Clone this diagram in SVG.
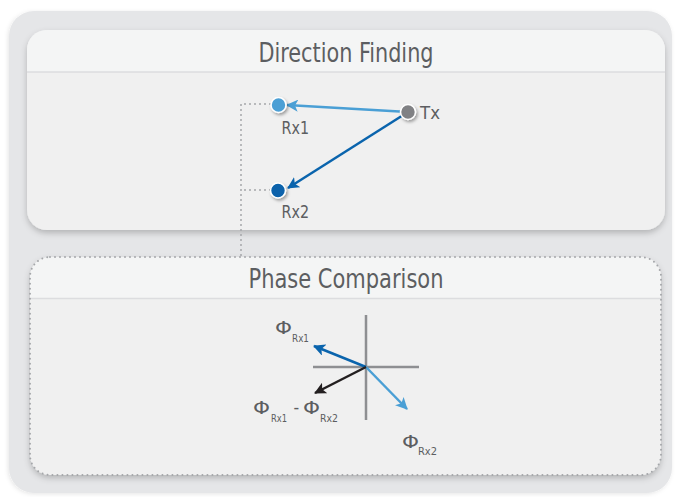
<svg xmlns="http://www.w3.org/2000/svg" width="679" height="497" viewBox="0 0 679 497">
  <defs>
    <filter id="sh" x="-10%" y="-10%" width="120%" height="130%">
      <feDropShadow dx="0" dy="3" stdDeviation="3" flood-color="#000" flood-opacity="0.22"/>
    </filter>
    <filter id="shOuter" x="-5%" y="-5%" width="110%" height="110%">
      <feDropShadow dx="-1" dy="1" stdDeviation="2" flood-color="#000" flood-opacity="0.10"/>
    </filter>
    <filter id="nsh" x="-60%" y="-60%" width="220%" height="220%">
      <feDropShadow dx="1.5" dy="2" stdDeviation="1.5" flood-color="#000" flood-opacity="0.35"/>
    </filter>
    <marker id="ahLight" viewBox="0 0 12 12" markerWidth="12" markerHeight="12" refX="11" refY="6" orient="auto" markerUnits="userSpaceOnUse">
      <path d="M0,0 L12,6 L0,12 L3,6 z" fill="#4a9fd5"/>
    </marker>
    <marker id="ahDark" viewBox="0 0 12 12" markerWidth="12" markerHeight="12" refX="11" refY="6" orient="auto" markerUnits="userSpaceOnUse">
      <path d="M0,0 L12,6 L0,12 L3,6 z" fill="#0a64ad"/>
    </marker>
    <marker id="ahBlack" viewBox="0 0 12 12" markerWidth="12" markerHeight="12" refX="11" refY="6" orient="auto" markerUnits="userSpaceOnUse">
      <path d="M0,0 L12,6 L0,12 L3,6 z" fill="#231f20"/>
    </marker>
  </defs>
  <style>
    .title { font-family: "Liberation Sans Narrow", "DejaVu Sans Condensed", "Liberation Sans", sans-serif; font-size: 26px; fill: #5c5e61; text-anchor: middle; }
    .lbl { font-family: "Liberation Sans Narrow", "DejaVu Sans Condensed", "Liberation Sans", sans-serif; font-size: 17.5px; fill: #5c5e61; }
    .phi { font-family: "DejaVu Sans Condensed", "DejaVu Sans", sans-serif; font-size: 17px; fill: #5c5e61; }
    .sub { font-family: "Liberation Sans Narrow", "DejaVu Sans Condensed", "Liberation Sans", sans-serif; font-size: 10.5px; fill: #5c5e61; }
    .dots { fill: none; stroke: #a5a7aa; stroke-width: 2; stroke-linecap: round; stroke-dasharray: 0 5; }
    .axis { stroke: #8e8f92; stroke-width: 2.5; }
    .node { stroke: #ffffff; stroke-width: 1.6; filter: url(#nsh); }
  </style>

  <!-- outer panel -->
  <g id="panel">
    <rect x="9" y="11" width="663" height="482" rx="25" fill="#e5e6e8" filter="url(#shOuter)"/>
  </g>

  <!-- Direction Finding card -->
  <g id="direction-finding">
    <g filter="url(#sh)">
      <rect x="27" y="30" width="638" height="200" rx="20" fill="#f0f0f0"/>
    </g>
    <path d="M27,72 V50 A20,20 0 0 1 47,30 H645 A20,20 0 0 1 665,50 V72 Z" fill="#f4f5f5"/>
    <line x1="27" y1="72" x2="665" y2="72" stroke="#dcdddf" stroke-width="1.5"/>
    <text class="title" x="346" y="62" textLength="175" lengthAdjust="spacingAndGlyphs">Direction Finding</text>
  </g>

  <!-- Phase Comparison card -->
  <g id="phase-comparison">
    <g filter="url(#sh)">
      <rect x="30" y="257" width="631" height="218" rx="20" fill="#f0f0f0"/>
    </g>
    <path d="M30,298 V277 A20,20 0 0 1 50,257 H641 A20,20 0 0 1 661,277 V298 Z" fill="#f4f5f5"/>
    <line x1="30" y1="298.5" x2="661" y2="298.5" stroke="#dcdddf" stroke-width="1.5"/>
    <rect x="30" y="257" width="631" height="218" rx="20" class="dots"/>
    <text class="title" x="346" y="288" textLength="195" lengthAdjust="spacingAndGlyphs">Phase Comparison</text>
  </g>

  <!-- connectors -->
  <g id="connectors">
    <path class="dots" d="M270,104 H241 V256"/>
    <path class="dots" d="M270,190 H241"/>
    <line x1="408" y1="112" x2="287" y2="105" stroke="#4a9fd5" stroke-width="2.5" marker-end="url(#ahLight)"/>
    <line x1="408" y1="112" x2="288" y2="188" stroke="#0a64ad" stroke-width="2.5" marker-end="url(#ahDark)"/>
  </g>

  <!-- nodes -->
  <g id="node-rx1">
    <circle class="node" cx="278.5" cy="105" r="7.5" fill="#4b9fd5"/>
    <text class="lbl" x="281.5" y="134" textLength="27.5" lengthAdjust="spacingAndGlyphs">Rx1</text>
  </g>
  <g id="node-rx2">
    <circle class="node" cx="278" cy="190.5" r="7.5" fill="#0762ab"/>
    <text class="lbl" x="281.5" y="218" textLength="27.5" lengthAdjust="spacingAndGlyphs">Rx2</text>
  </g>
  <g id="node-tx">
    <circle class="node" cx="408" cy="112" r="7.5" fill="#808184"/>
    <text class="lbl" x="420" y="119" textLength="20" lengthAdjust="spacingAndGlyphs">Tx</text>
  </g>

  <!-- phase diagram -->
  <g id="phase-diagram">
    <line class="axis" x1="366" y1="315" x2="366" y2="420"/>
    <line class="axis" x1="313" y1="367" x2="419" y2="367"/>
    <line x1="366" y1="367" x2="314" y2="346" stroke="#0a64ad" stroke-width="2.5" marker-end="url(#ahDark)"/>
    <line x1="366" y1="367" x2="407" y2="409" stroke="#4a9fd5" stroke-width="2.5" marker-end="url(#ahLight)"/>
    <line x1="366" y1="367" x2="315" y2="393" stroke="#231f20" stroke-width="2.5" marker-end="url(#ahBlack)"/>

    <text class="phi" x="275" y="334" textLength="17" lengthAdjust="spacingAndGlyphs">Φ</text>
    <text class="sub" x="292" y="342" textLength="17" lengthAdjust="spacingAndGlyphs">Rx1</text>

    <text class="phi" x="253" y="414" textLength="17" lengthAdjust="spacingAndGlyphs">Φ</text>
    <text class="sub" x="271" y="422" textLength="16" lengthAdjust="spacingAndGlyphs">Rx1</text>
    <text class="lbl" x="293.5" y="413">-</text>
    <text class="phi" x="303" y="414" textLength="17" lengthAdjust="spacingAndGlyphs">Φ</text>
    <text class="sub" x="320" y="422" textLength="18" lengthAdjust="spacingAndGlyphs">Rx2</text>

    <text class="phi" x="402" y="447.5" textLength="17" lengthAdjust="spacingAndGlyphs">Φ</text>
    <text class="sub" x="418" y="455" textLength="19" lengthAdjust="spacingAndGlyphs">Rx2</text>
  </g>
</svg>
